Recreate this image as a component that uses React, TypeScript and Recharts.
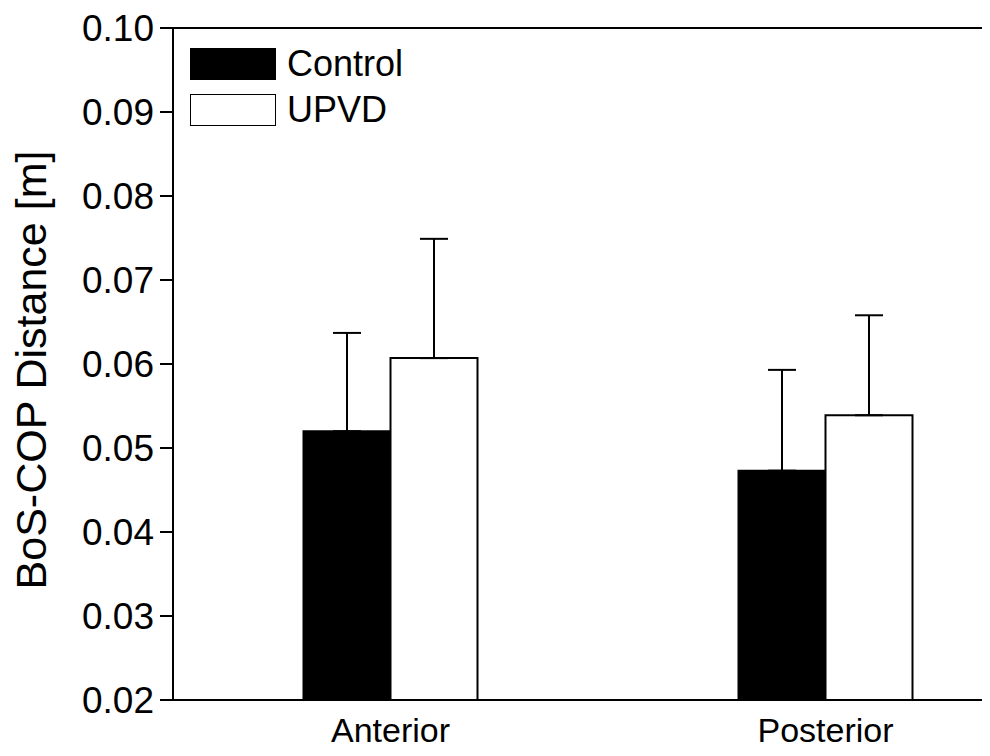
import { BarChart, Bar, XAxis, YAxis, ErrorBar, ReferenceLine } from 'recharts';

const groups = ['Anterior', 'Posterior'];
const seriesNames = ['Control', 'UPVD'];
const seriesFills = ['#000', '#fff'];
const controlMean = [0.052, 0.0473];
const controlSd = [0.0117, 0.012];
const upvdMean = [0.0607, 0.0539];
const upvdSd = [0.0142, 0.0119];
const yTicks = [0.02, 0.03, 0.04, 0.05, 0.06, 0.07, 0.08, 0.09, 0.1];

const data = groups.map((name, i) => ({
  name,
  control: controlMean[i],
  controlErr: [0, controlSd[i]],
  upvd: upvdMean[i],
  upvdErr: [0, upvdSd[i]],
}));

const FONT = '"Liberation Sans", Arial, sans-serif';

// legend drawn as an overlay so it takes no room from the plot
const LegendBox = () => (
  <div
    style={{
      position: 'absolute',
      top: 33,
      left: 182,
      fontFamily: FONT,
      fontSize: 36,
      color: '#000',
      zIndex: 2,
    }}
  >
    {seriesNames.map((n, i) => (
      <div key={n} style={{ display: 'flex', alignItems: 'center', height: 46 }}>
        <div
          style={{
            width: 84,
            height: 30,
            background: seriesFills[i],
            border: '1.5px solid #000',
            marginRight: 11,
          }}
        />
        <span style={{ lineHeight: '32px' }}>{n}</span>
      </div>
    ))}
  </div>
);

const YLabel = () => (
  <text
    x={38}
    y={362}
    transform="rotate(-90 38 362)"
    textAnchor="middle"
    fontFamily={FONT}
    fontSize={43}
    fill="#000"
  >
    BoS-COP Distance [m]
  </text>
);

export default function App() {
  return (
    <div style={{ position: 'relative', width: 982, height: 740, overflow: 'hidden' }}>
      {/* negative right margin: the plot runs on past the picture's right edge */}
      <BarChart
        width={982}
        height={740}
        data={data}
        margin={{ top: 20, right: -53, bottom: 0, left: 0 }}
        barCategoryGap="30%"
        barGap={0}
      >
        <XAxis
          dataKey="name"
          height={48}
          tickLine={false}
          tickSize={0}
          tickMargin={18}
          axisLine={{ stroke: '#000', strokeWidth: 2 }}
          tick={{ fill: '#000', fontSize: 34, fontFamily: FONT }}
        />
        <YAxis
          width={165}
          domain={[0.02, 0.1]}
          ticks={yTicks}
          interval={0}
          allowDataOverflow
          tickFormatter={(v: number) => v.toFixed(2)}
          tickSize={13}
          tickMargin={6}
          tickLine={{ stroke: '#000', strokeWidth: 2 }}
          axisLine={{ stroke: '#000', strokeWidth: 2 }}
          tick={{ fill: '#000', fontSize: 37, fontFamily: FONT }}
          label={<YLabel />}
        />
        <ReferenceLine y={0.1} stroke="#000" strokeWidth={2} ifOverflow="visible" />
        <Bar dataKey="control" name={seriesNames[0]} fill={seriesFills[0]} stroke="#000" strokeWidth={2} isAnimationActive={false}>
          <ErrorBar dataKey="controlErr" width={14} stroke="#000" strokeWidth={2} isAnimationActive={false} />
        </Bar>
        <Bar dataKey="upvd" name={seriesNames[1]} fill={seriesFills[1]} stroke="#000" strokeWidth={2} isAnimationActive={false}>
          <ErrorBar dataKey="upvdErr" width={14} stroke="#000" strokeWidth={2} isAnimationActive={false} />
        </Bar>
      </BarChart>
      <LegendBox />
    </div>
  );
}
